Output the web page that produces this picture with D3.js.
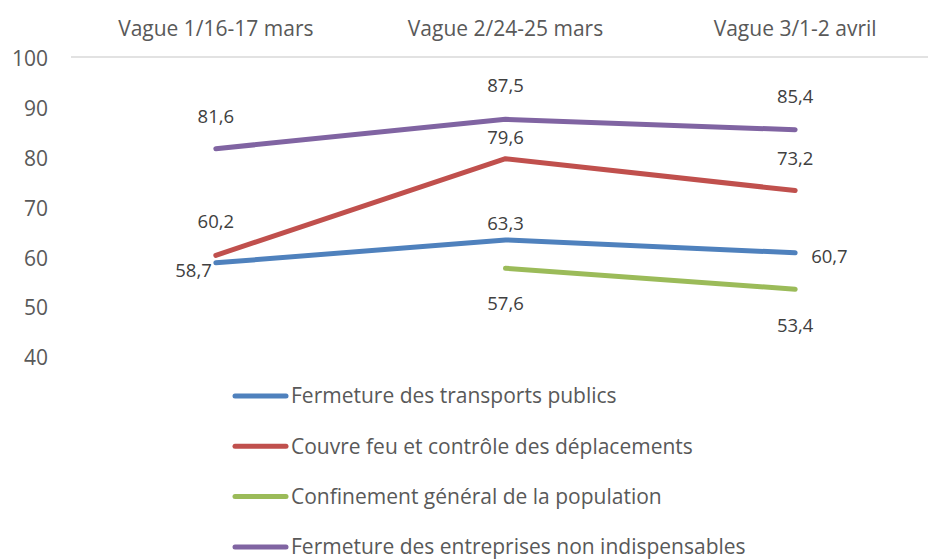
<!DOCTYPE html>
<html>
<head>
<meta charset="utf-8">
<script src="https://cdn.jsdelivr.net/npm/d3@7"></script>
<style>
  html, body { margin: 0; padding: 0; background: #fff; }
  svg { display: block; font-family: "Open Sans", "Noto Sans", sans-serif; }
</style>
</head>
<body>
<svg id="chart" width="928" height="559"></svg>
<script>
// ---- Data ----
const categories = ["Vague 1/16-17 mars", "Vague 2/24-25 mars", "Vague 3/1-2 avril"];
const seriesNames = [
  "Fermeture des transports publics",
  "Couvre feu et contrôle des déplacements",
  "Confinement général de la population",
  "Fermeture des entreprises non indispensables"
];
const transportsValues = [58.7, 63.3, 60.7];
const couvreFeuValues = [60.2, 79.6, 73.2];
const confinementValues = [null, 57.6, 53.4];
const entreprisesValues = [81.6, 87.5, 85.4];
const yTickValues = [40, 50, 60, 70, 80, 90, 100];

// ---- Styles / placement (not data) ----
const colors = ["#4F81BD", "#C0504D", "#9BBB59", "#8064A2"];
// label offsets [dx, dy, anchor] per series per category
const labelPlacement = [
  [[-4, 14, "end"], [0, -10, "middle"], [16, 10, "start"]],
  [[0, -27, "middle"], [0, -15, "middle"], [0, -26, "middle"]],
  [null, [0, 42, "middle"], [0, 43, "middle"]],
  [[0, -26, "middle"], [0, -27, "middle"], [0, -27, "middle"]]
];

const allValues = [transportsValues, couvreFeuValues, confinementValues, entreprisesValues];
const series = seriesNames.map((name, i) => ({
  name, color: colors[i],
  points: categories.map((c, j) => ({ cat: c, value: allValues[i][j], place: labelPlacement[i][j] }))
}));

const svg = d3.select("#chart");

const x = d3.scaleBand().domain(categories).range([71, 940]);
const y = d3.scaleLinear().domain([40, 100]).range([356, 57]);
const cx = c => x(c) + x.bandwidth() / 2;

// gridline at 100 only
svg.append("line")
  .attr("x1", 71).attr("x2", 940)
  .attr("y1", y(100)).attr("y2", y(100))
  .attr("stroke", "#d9d9d9").attr("stroke-width", 1.5);

// y axis labels
const yAxis = d3.axisLeft(y).tickValues(yTickValues).tickSize(0).tickPadding(0);
const gy = svg.append("g").attr("transform", "translate(48,2)").call(yAxis);
gy.select(".domain").remove();
gy.selectAll("text")
  .attr("font-family", "'Open Sans', sans-serif")
  .attr("font-size", 21)
  .attr("fill", "#595959");

// category labels (top)
const xAxis = d3.axisTop(x).tickSize(0).tickPadding(0);
const gx = svg.append("g").attr("transform", "translate(0,36)").call(xAxis);
gx.select(".domain").remove();
gx.selectAll("text")
  .attr("font-family", "'Open Sans', sans-serif")
  .attr("font-size", 21)
  .attr("fill", "#595959");

// lines
const line = d3.line()
  .defined(d => d.value != null)
  .x(d => cx(d.cat))
  .y(d => y(d.value));

svg.append("g").selectAll("path")
  .data(series)
  .join("path")
  .attr("d", d => line(d.points))
  .attr("fill", "none")
  .attr("stroke", d => d.color)
  .attr("stroke-width", 5)
  .attr("stroke-linecap", "round")
  .attr("stroke-linejoin", "round");

// data labels
const fmt = v => d3.format(".1f")(v).replace(".", ",");
series.forEach(s => {
  svg.append("g").selectAll("text")
    .data(s.points.filter(p => p.value != null))
    .join("text")
    .attr("x", p => cx(p.cat) + p.place[0])
    .attr("y", p => y(p.value) + p.place[1])
    .attr("text-anchor", p => p.place[2])
    .attr("font-size", 18.5)
    .attr("fill", "#404040")
    .text(p => fmt(p.value));
});

// legend
const legend = svg.append("g").selectAll("g")
  .data(series)
  .join("g")
  .attr("transform", (d, i) => `translate(0, ${396 + i * 50.3})`);
legend.append("line")
  .attr("x1", 235).attr("x2", 286)
  .attr("stroke", d => d.color)
  .attr("stroke-width", 5)
  .attr("stroke-linecap", "round");
legend.append("text")
  .attr("x", 291).attr("y", 0).attr("dy", "0.35em")
  .attr("font-size", 21)
  .attr("fill", "#595959")
  .text(d => d.name);
</script>
</body>
</html>
